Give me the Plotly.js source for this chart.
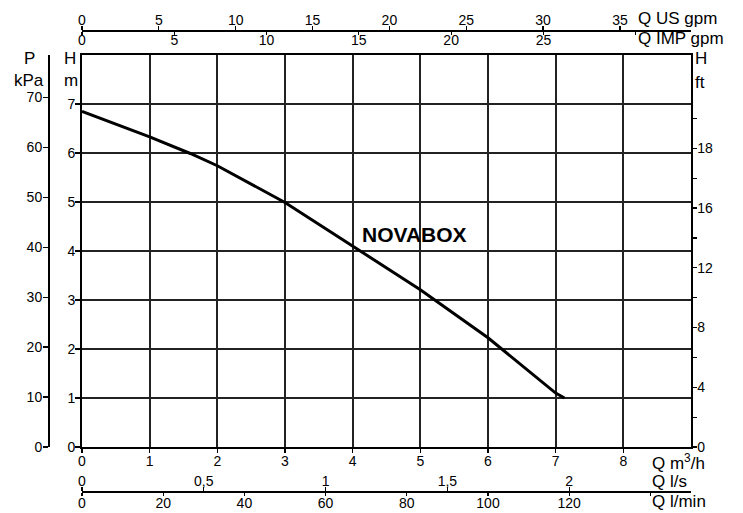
<!DOCTYPE html>
<html>
<head>
<meta charset="utf-8">
<script src="https://cdn.plot.ly/plotly-3.0.1.min.js"></script>
<style>html,body{margin:0;padding:0;background:#fff;}#chart{width:743px;height:513px;}</style>
</head>
<body>
<div id="chart"></div>
<script>
// ---- data ----
const flowM3h = [0, 1, 1.6, 2, 3, 4, 5, 6, 7, 7.13];
const headM   = [6.85, 6.33, 5.99, 5.74, 4.99, 4.10, 3.21, 2.23, 1.10, 1.0];
const curveName = 'NOVABOX';

const m3hTicks = [0, 1, 2, 3, 4, 5, 6, 7, 8];
const headTicks = [0, 1, 2, 3, 4, 5, 6, 7];
const kpaTicks = [0, 10, 20, 30, 40, 50, 60, 70];
const ftTicks = [0, 2, 4, 6, 8, 10, 12, 14, 16, 18, 20, 22];
const ftLabels = ['0', '', '4', '', '8', '', '12', '', '16', '', '18', ''];
const usGpmTicks = [0, 5, 10, 15, 20, 25, 30, 35];
const impGpmTicks = [0, 5, 10, 15, 20, 25, 30];
const impGpmLabels = ['0', '5', '10', '15', '20', '25', ''];
const lsTicks = [0, 0.5, 1, 1.5, 2];
const lsLabels = ['0', '0,5', '1', '1,5', '2'];
const lminTicks = [0, 20, 40, 60, 80, 100, 120, 140];
const lminLabels = ['0', '20', '40', '60', '80', '100', '120', ''];

// unit conversions
const Q_MAX = 9, H_MAX = 8;
const KPA_PER_M = 9.80665, FT_PER_M = 1 / 0.3048;
const USGPM_PER_M3H = 4.402868, IMPGPM_PER_M3H = 3.666154;
const LS_PER_M3H = 1 / 3.6, LMIN_PER_M3H = 1000 / 60;

const W = 743, H = 513;
const px = x => x / W, py = y => 1 - y / H;

const FONT = 'Liberation Sans, Arial, Helvetica, sans-serif';
const tickFont = {family: FONT, size: 14, color: '#000'};

const xDom = [px(82), px(691)];
const yDom = [py(447), py(55)];

const baseAx = {
  showline: true, linecolor: '#000', linewidth: 1.5,
  ticks: 'outside', tickcolor: '#000', tickwidth: 1.2,
  zeroline: false, showgrid: false, tickfont: tickFont,
  tickmode: 'array', fixedrange: true
};

const layout = {
  width: W, height: H,
  margin: {l: 0, r: 0, t: 0, b: 0, pad: 0},
  paper_bgcolor: '#fff', plot_bgcolor: '#fff',
  showlegend: false,
  font: {family: FONT, color: '#000'},
  xaxis: Object.assign({}, baseAx, {
    domain: xDom, range: [0, Q_MAX], tickvals: m3hTicks,
    ticktext: m3hTicks.map(String), ticklen: 4, ticklabelstandoff: -4,
    showgrid: true, gridcolor: '#222', gridwidth: 2, mirror: true, anchor: 'y', linewidth: 2
  }),
  yaxis: Object.assign({}, baseAx, {
    domain: yDom, range: [0, H_MAX], tickvals: headTicks,
    ticktext: headTicks.map(String), ticklen: 5, ticklabelstandoff: -3,
    showgrid: true, gridcolor: '#222', gridwidth: 2, mirror: true, anchor: 'x', linewidth: 2
  }),
  yaxis2: Object.assign({}, baseAx, {
    overlaying: 'y', anchor: 'free', position: px(48), side: 'left',
    range: [0, H_MAX * KPA_PER_M], tickvals: kpaTicks,
    ticktext: kpaTicks.map(String), ticklen: 5, ticklabelstandoff: -2
  }),
  yaxis3: Object.assign({}, baseAx, {
    overlaying: 'y', anchor: 'x', side: 'right',
    range: [0, H_MAX * FT_PER_M], tickvals: ftTicks, ticktext: ftLabels, ticklen: 4,
    ticklabelstandoff: -2
  }),
  xaxis2: Object.assign({}, baseAx, {
    overlaying: 'x', anchor: 'free', position: py(30), side: 'top',
    range: [0, Q_MAX * USGPM_PER_M3H], tickvals: usGpmTicks,
    ticktext: usGpmTicks.map(String), ticklen: 4, ticklabelstandoff: -5
  }),
  xaxis3: Object.assign({}, baseAx, {
    overlaying: 'x', anchor: 'free', position: py(30), side: 'bottom',
    range: [0, Q_MAX * IMPGPM_PER_M3H], tickvals: impGpmTicks,
    ticktext: impGpmLabels, ticklen: 3, ticklabelstandoff: -6
  }),
  xaxis4: Object.assign({}, baseAx, {
    overlaying: 'x', anchor: 'free', position: py(491), side: 'top',
    range: [0, Q_MAX * LS_PER_M3H], tickvals: lsTicks, ticktext: lsLabels, ticklen: 4,
    ticklabelstandoff: -5
  }),
  xaxis5: Object.assign({}, baseAx, {
    overlaying: 'x', anchor: 'free', position: py(491), side: 'bottom',
    range: [0, Q_MAX * LMIN_PER_M3H], tickvals: lminTicks, ticktext: lminLabels, ticklen: 3,
    ticklabelstandoff: -4
  }),
  annotations: []
};

const titleFont = {family: FONT, size: 17, color: '#000'};
function lab(text, x, y, anchor) {
  layout.annotations.push({
    text: text, xref: 'paper', yref: 'paper', x: px(x), y: py(y),
    xanchor: anchor || 'left', yanchor: 'middle', showarrow: false,
    font: titleFont, borderpad: 0
  });
}
lab('P', 29, 58, 'center');
lab('kPa', 29, 80, 'center');
lab('H', 70, 58, 'center');
lab('m', 71, 80, 'center');
lab('H', 694, 59);
lab('ft', 694, 83);
lab('Q US gpm', 637, 19);
lab('Q IMP gpm', 637, 39);
lab('Q m<sup>3</sup>/h', 651, 462);
lab('Q l/s', 651, 481);
lab('Q l/min', 651, 501);

layout.annotations.push({
  text: '<b>' + curveName + '</b>', xref: 'x', yref: 'y',
  x: 4.91, y: 4.34, xanchor: 'center', yanchor: 'middle', showarrow: false,
  font: {family: FONT, size: 21, color: '#000'}
});

const traces = [{
  type: 'scatter', mode: 'lines', x: flowM3h, y: headM, name: curveName,
  xaxis: 'x', yaxis: 'y',
  line: {color: '#000', width: 3},
  hoverinfo: 'skip'
}];

// the same curve expressed in the secondary units, drawn transparent so that
// every secondary axis gets its own subplot and is rendered
function ghost(xa, ya, xs, ys) {
  traces.push({
    type: 'scatter', mode: 'lines', x: xs, y: ys, xaxis: xa, yaxis: ya,
    line: {color: 'rgba(0,0,0,0)', width: 0}, opacity: 0,
    hoverinfo: 'skip', showlegend: false
  });
}
ghost('x', 'y2', flowM3h, headM.map(h => h * KPA_PER_M));
ghost('x', 'y3', flowM3h, headM.map(h => h * FT_PER_M));
ghost('x2', 'y', flowM3h.map(q => q * USGPM_PER_M3H), headM);
ghost('x3', 'y', flowM3h.map(q => q * IMPGPM_PER_M3H), headM);
ghost('x4', 'y', flowM3h.map(q => q * LS_PER_M3H), headM);
ghost('x5', 'y', flowM3h.map(q => q * LMIN_PER_M3H), headM);

Plotly.newPlot('chart', traces, layout, {staticPlot: true, displayModeBar: false});
</script>
</body>
</html>
